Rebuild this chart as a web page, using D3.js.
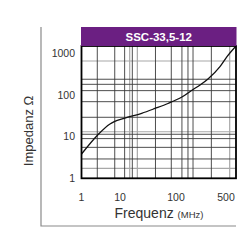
<!DOCTYPE html>
<html>
<head>
<meta charset="utf-8">
<script src="https://cdn.jsdelivr.net/npm/d3@7"></script>
<style>
    body { margin: 0; background: #fff; }
    text { font-family: "Liberation Sans", Arial, sans-serif; }
</style>
</head>
<body>
<div id="chart"></div>
<script>
// Data
var title = "SSC-33,5-12";
var freq = [1, 2.64, 5.5, 7.1, 11.9, 24.4, 42.2, 71.9, 121, 173, 217, 280, 412, 517, 700];
var imp = [3.81, 10.9, 19.9, 22.6, 27.2, 35.9, 46.8, 61.5, 88, 133, 171, 238, 468, 811, 1460];

var xTicks = [1, 10, 100, 500];
var yTicks = [1, 10, 100, 1000];

// grid lines (dark and light ones)
var xGridDark = [2.57, 7.3, 12.1, 16.6, 43, 82.4, 121, 147, 173, 312];
var xGridLight = [14.9, 20.4, 566];
var yGridDark = [2.9, 5.5, 8.9, 11.3, 28.8, 68, 125, 177, 234];
var yGridLight = [1.72, 13, 640];

var width = 250, height = 250;

var svg = d3.select("#chart").append("svg")
    .attr("width", width)
    .attr("height", height);

// x axis is not a clean log axis in the original, so piecewise log
var x = d3.scaleLog()
    .domain([1, 10, 100, 500, 700])
    .range([81.5, 120, 176, 226, 236]);

var y = d3.scaleLog()
    .domain([1, 1460])
    .range([178.3, 46]);

// outer frame (left + bottom grey lines)
svg.append("path")
    .attr("d", "M41,27V226H236")
    .attr("fill", "none")
    .attr("stroke", "#8a8a8a")
    .attr("stroke-width", 1.2);

// grid
var grid = svg.append("g");

grid.selectAll(".xl").data(xGridLight).enter().append("line")
    .attr("x1", function(d) { return x(d); })
    .attr("x2", function(d) { return x(d); })
    .attr("y1", y(1460)).attr("y2", y(1))
    .attr("stroke", "#a8a8a8").attr("stroke-width", 1.2);

grid.selectAll(".yl").data(yGridLight).enter().append("line")
    .attr("x1", x(1)).attr("x2", x(700))
    .attr("y1", function(d) { return y(d); })
    .attr("y2", function(d) { return y(d); })
    .attr("stroke", "#a8a8a8").attr("stroke-width", 1.2);

grid.selectAll(".xd").data(xGridDark).enter().append("line")
    .attr("x1", function(d) { return x(d); })
    .attr("x2", function(d) { return x(d); })
    .attr("y1", y(1460)).attr("y2", y(1))
    .attr("stroke", "#3a3a3a").attr("stroke-width", 0.9);

grid.selectAll(".yd").data(yGridDark).enter().append("line")
    .attr("x1", x(1)).attr("x2", x(700))
    .attr("y1", function(d) { return y(d); })
    .attr("y2", function(d) { return y(d); })
    .attr("stroke", "#3a3a3a").attr("stroke-width", 0.9);

// curve
var line = d3.line()
    .x(function(d, i) { return x(freq[i]); })
    .y(function(d, i) { return y(imp[i]); })
    .curve(d3.curveMonotoneX);

svg.append("path")
    .datum(freq)
    .attr("d", line)
    .attr("fill", "none")
    .attr("stroke", "#111")
    .attr("stroke-width", 1.3);

// plot border
svg.append("rect")
    .attr("x", x(1))
    .attr("y", y(1460))
    .attr("width", x(700) - x(1))
    .attr("height", y(1) - y(1460))
    .attr("fill", "none")
    .attr("stroke", "#000")
    .attr("stroke-width", 1.8);

// title band
svg.append("rect")
    .attr("x", x(1) - 0.5)
    .attr("y", 27)
    .attr("width", x(700) - x(1) + 1)
    .attr("height", y(1460) - 27)
    .attr("fill", "#6b1f82");

svg.append("text")
    .attr("x", (x(1) + x(700)) / 2)
    .attr("y", 41)
    .attr("text-anchor", "middle")
    .attr("fill", "#fff")
    .attr("font-weight", "bold")
    .attr("font-size", "11.5px")
    .text(title);

// tick labels
svg.selectAll(".xt").data(xTicks).enter().append("text")
    .attr("x", function(d) { return x(d); })
    .attr("y", 201)
    .attr("text-anchor", "middle")
    .attr("fill", "#333")
    .attr("font-size", "10.5px")
    .text(function(d) { return d; });

svg.selectAll(".yt").data(yTicks).enter().append("text")
    .attr("x", 75)
    .attr("y", function(d) { return y(d) + 4; })
    .attr("text-anchor", "end")
    .attr("fill", "#333")
    .attr("font-size", "10.5px")
    .text(function(d) { return d; });

// axis titles
svg.append("text")
    .attr("transform", "translate(33,131) rotate(-90)")
    .attr("text-anchor", "middle")
    .attr("fill", "#333")
    .attr("font-size", "13px")
    .text("Impedanz \u03a9");

var xt = svg.append("text")
    .attr("x", 159)
    .attr("y", 218)
    .attr("text-anchor", "middle")
    .attr("fill", "#333")
    .attr("font-size", "14px");
xt.append("tspan").text("Frequenz ");
xt.append("tspan").attr("font-size", "9.5px").text("(MHz)");
</script>
</body>
</html>
